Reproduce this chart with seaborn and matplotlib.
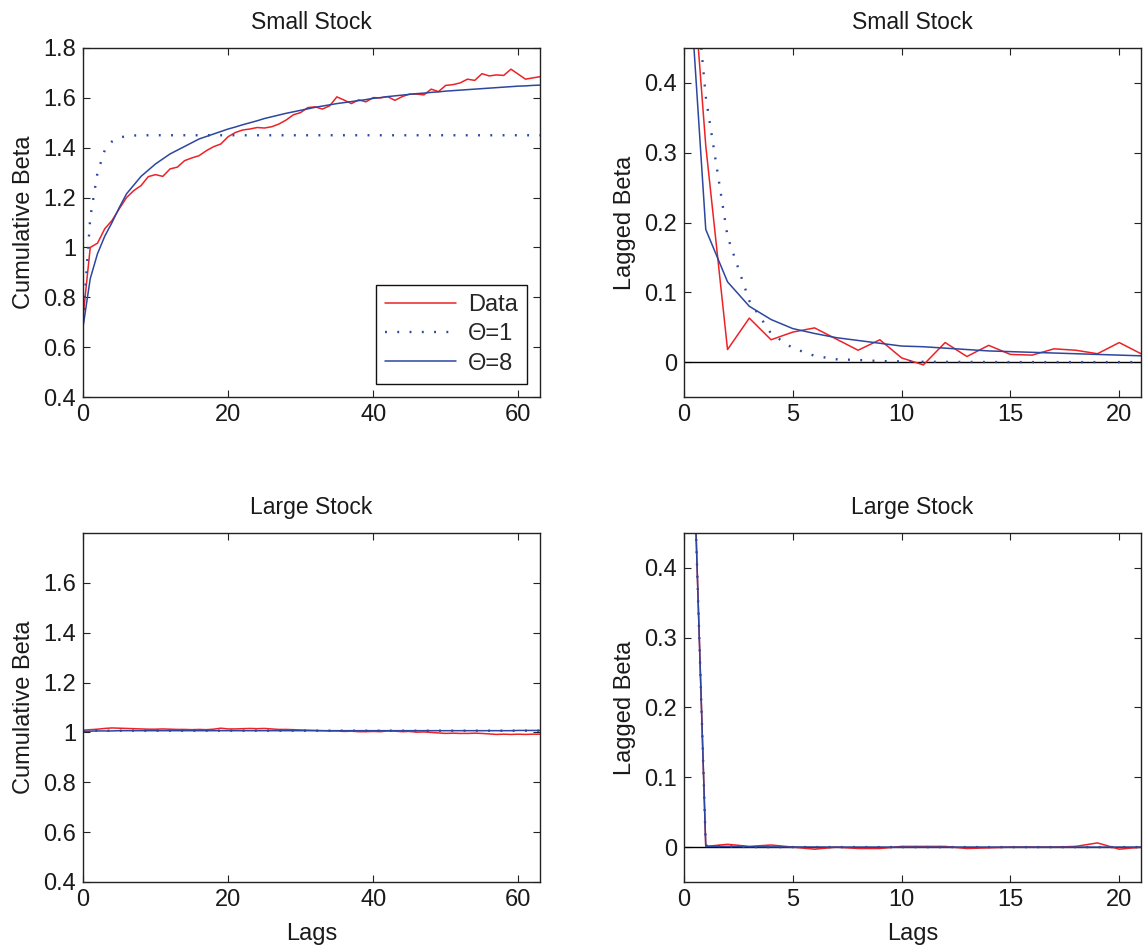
import matplotlib
matplotlib.use("Agg")
import matplotlib.pyplot as plt
from matplotlib.ticker import FuncFormatter
import seaborn as sns
import pandas as pd

# ---- lags ----
lags_cum = list(range(64))
lags_lag = list(range(22))

# ---- Small stock: cumulative beta ----
small_cum_data = [
    0.720, 1.000, 1.017, 1.075, 1.108, 1.155, 1.200, 1.228, 1.248, 1.284,
    1.292, 1.285, 1.315, 1.322, 1.348, 1.359, 1.368, 1.388, 1.404, 1.415,
    1.444, 1.461, 1.471, 1.475, 1.481, 1.479, 1.484, 1.495, 1.511, 1.532,
    1.541, 1.561, 1.564, 1.555, 1.568, 1.604, 1.591, 1.577, 1.592, 1.584,
    1.601, 1.600, 1.605, 1.590, 1.605, 1.615, 1.615, 1.612, 1.635, 1.625,
    1.650, 1.653, 1.660, 1.675, 1.670, 1.697, 1.688, 1.692, 1.690, 1.715,
    1.695, 1.675, 1.680, 1.685,
]
small_cum_theta1 = [
    0.700, 1.120, 1.300, 1.390, 1.425, 1.440, 1.447, 1.449, 1.450, 1.450,
    1.450, 1.450, 1.450, 1.450, 1.450, 1.450, 1.450, 1.450, 1.450, 1.450,
    1.450, 1.450, 1.450, 1.450, 1.450, 1.450, 1.450, 1.450, 1.450, 1.450,
    1.450, 1.450, 1.450, 1.450, 1.450, 1.450, 1.450, 1.450, 1.450, 1.450,
    1.450, 1.450, 1.450, 1.450, 1.450, 1.450, 1.450, 1.450, 1.450, 1.450,
    1.450, 1.450, 1.450, 1.450, 1.450, 1.450, 1.450, 1.450, 1.450, 1.450,
    1.450, 1.450, 1.450, 1.450,
]
small_cum_theta8 = [
    0.680, 0.875, 0.975, 1.045, 1.100, 1.160, 1.215, 1.250, 1.285, 1.310,
    1.335, 1.355, 1.375, 1.390, 1.405, 1.420, 1.435, 1.445, 1.455, 1.465,
    1.475, 1.483, 1.492, 1.500, 1.508, 1.517, 1.524, 1.531, 1.538, 1.544,
    1.550, 1.556, 1.562, 1.567, 1.572, 1.577, 1.581, 1.585, 1.589, 1.593,
    1.598, 1.601, 1.605, 1.608, 1.611, 1.614, 1.617, 1.619, 1.622, 1.624,
    1.627, 1.629, 1.631, 1.633, 1.635, 1.637, 1.639, 1.641, 1.643, 1.645,
    1.647, 1.648, 1.650, 1.651,
]

# ---- Small stock: lagged beta ----
small_lag_data = [
    0.720, 0.310, 0.018, 0.063, 0.032, 0.043, 0.049, 0.033, 0.017, 0.032,
    0.006, -0.004, 0.028, 0.008, 0.024, 0.011, 0.010, 0.019, 0.017, 0.012,
    0.028, 0.012,
]
small_lag_theta1 = [
    0.720, 0.380, 0.180, 0.088, 0.041, 0.020, 0.009, 0.004, 0.003, 0.0015,
    0.001, 0.0005, 0.0003, 0.0002, 0.0001, 0.0, 0.0, 0.0, 0.0, 0.0,
    0.0, 0.0,
]
small_lag_theta8 = [
    0.670, 0.190, 0.115, 0.080, 0.061, 0.048, 0.041, 0.035, 0.031, 0.027,
    0.023, 0.022, 0.020, 0.018, 0.016, 0.015, 0.014, 0.013, 0.012, 0.011,
    0.010, 0.009,
]

# ---- Large stock: cumulative beta ----
large_cum_data = [
    1.009, 1.011, 1.013, 1.016, 1.018, 1.017, 1.016, 1.015, 1.014, 1.013,
    1.013, 1.014, 1.013, 1.012, 1.012, 1.011, 1.012, 1.011, 1.013, 1.017,
    1.014, 1.014, 1.015, 1.016, 1.015, 1.016, 1.014, 1.012, 1.012, 1.011,
    1.010, 1.009, 1.008, 1.007, 1.006, 1.006, 1.004, 1.005, 1.003, 1.003,
    1.004, 1.003, 1.006, 1.005, 1.003, 1.004, 1.001, 1.002, 1.000, 0.998,
    0.996, 0.997, 0.996, 0.996, 0.997, 0.996, 0.994, 0.992, 0.993, 0.992,
    0.993, 0.992, 0.993, 0.993,
]
large_cum_theta1 = [
    1.004, 1.006, 1.007, 1.007, 1.007, 1.007, 1.007, 1.007, 1.007, 1.007,
    1.007, 1.007, 1.007, 1.007, 1.007, 1.007, 1.007, 1.007, 1.007, 1.007,
    1.007, 1.007, 1.007, 1.007, 1.007, 1.007, 1.007, 1.007, 1.007, 1.007,
    1.007, 1.007, 1.007, 1.007, 1.007, 1.007, 1.007, 1.007, 1.007, 1.007,
    1.007, 1.007, 1.007, 1.007, 1.007, 1.007, 1.007, 1.007, 1.007, 1.007,
    1.007, 1.007, 1.007, 1.007, 1.007, 1.007, 1.007, 1.007, 1.007, 1.007,
    1.007, 1.007, 1.007, 1.007,
]
large_cum_theta8 = [
    1.004, 1.005, 1.006, 1.006, 1.006, 1.007, 1.007, 1.007, 1.007, 1.007,
    1.007, 1.007, 1.007, 1.007, 1.007, 1.007, 1.007, 1.007, 1.007, 1.007,
    1.007, 1.007, 1.007, 1.007, 1.007, 1.007, 1.007, 1.007, 1.007, 1.007,
    1.007, 1.007, 1.007, 1.007, 1.007, 1.007, 1.007, 1.007, 1.007, 1.007,
    1.007, 1.007, 1.007, 1.007, 1.007, 1.007, 1.007, 1.007, 1.007, 1.007,
    1.007, 1.007, 1.007, 1.007, 1.007, 1.007, 1.007, 1.007, 1.007, 1.007,
    1.008, 1.008, 1.008, 1.008,
]

# ---- Large stock: lagged beta ----
large_lag_data = [
    1.009, 0.001, 0.004, 0.001, 0.003, 0.000, -0.003, 0.000, -0.002, -0.002,
    0.001, 0.001, 0.001, -0.002, -0.001, 0.000, 0.000, 0.000, 0.001, 0.006,
    -0.003, 0.000,
]
large_lag_theta1 = [
    1.004, 0.002, 0.001, 0.0, 0.0, 0.0, 0.0, 0.0, 0.0, 0.0,
    0.0, 0.0, 0.0, 0.0, 0.0, 0.0, 0.0, 0.0, 0.0, 0.0,
    0.0, 0.0,
]
large_lag_theta8 = [
    1.004, 0.001, 0.001, 0.0005, 0.0003, 0.0002, 0.0001, 0.0, 0.0, 0.0,
    0.0, 0.0, 0.0, 0.0, 0.0, 0.0, 0.0, 0.0, 0.0, 0.0,
    0.0, 0.0,
]

panel_titles = ["Small Stock", "Small Stock", "Large Stock", "Large Stock"]
series_labels = ["Data", "\u0398=1", "\u0398=8"]

RED = "#ec2227"
BLUE = "#2d469f"
DOT = (0, (0.8, 4.4))
FS = 17

sns.set_theme(style="white")
plt.rcParams["font.family"] = ["Liberation Sans", "DejaVu Sans"]
plt.rcParams["axes.linewidth"] = 1.0

W, H = 1143, 949
fig = plt.figure(figsize=(W / 100, H / 100), dpi=100)
fig.patch.set_facecolor("white")


def box(l, t, r, b):
    return [l / W, 1 - b / H, (r - l) / W, (b - t) / H]


ax_tl = fig.add_axes(box(83, 48, 540, 397))
ax_tr = fig.add_axes(box(684, 48, 1141, 397))
ax_bl = fig.add_axes(box(83, 533, 540, 882))
ax_br = fig.add_axes(box(684, 533, 1141, 882))


def draw(ax, lags, data, th1, th8, with_labels=False):
    df = pd.DataFrame({"lag": lags, "data": data, "t1": th1, "t8": th8})
    sns.lineplot(data=df, x="lag", y="data", ax=ax, color=RED, lw=1.1,
                 label=series_labels[0] if with_labels else None)
    sns.lineplot(data=df, x="lag", y="t1", ax=ax, color=BLUE, lw=1.7,
                 label=series_labels[1] if with_labels else None)
    ax.lines[-1].set_linestyle(DOT)
    sns.lineplot(data=df, x="lag", y="t8", ax=ax, color=BLUE, lw=1.1,
                 label=series_labels[2] if with_labels else None)


draw(ax_tl, lags_cum, small_cum_data, small_cum_theta1, small_cum_theta8, True)
draw(ax_tr, lags_lag, small_lag_data, small_lag_theta1, small_lag_theta8)
draw(ax_bl, lags_cum, large_cum_data, large_cum_theta1, large_cum_theta8)
draw(ax_br, lags_lag, large_lag_data, large_lag_theta1, large_lag_theta8)

for ax in (ax_tr, ax_br):
    ax.axhline(0, color="black", lw=1.0, zorder=1)

fmt = FuncFormatter(lambda v, p: "%g" % round(v, 6))

for ax, title in zip((ax_tl, ax_tr, ax_bl, ax_br), panel_titles):
    ax.set_title(title, fontsize=FS - 0.5, pad=14, color="#1a1a1a")
    ax.set_facecolor("white")
    for s in ax.spines.values():
        s.set_visible(True)
        s.set_color("#222222")
        s.set_linewidth(1.0)
    ax.tick_params(direction="in", length=5, width=0.8, top=True, right=True,
                   bottom=True, left=True, labelsize=FS, colors="#222222",
                   labelcolor="#1a1a1a", pad=5)
    ax.xaxis.set_major_formatter(fmt)
    ax.yaxis.set_major_formatter(fmt)
    ax.set_xlabel("")
    ax.set_ylabel("")

for ax in (ax_tl, ax_bl):
    ax.set_xlim(0, 63)
    ax.set_xticks([0, 20, 40, 60])
    ax.set_ylim(0.4, 1.8)
ax_tl.set_yticks([0.4, 0.6, 0.8, 1.0, 1.2, 1.4, 1.6, 1.8])
ax_bl.set_yticks([0.4, 0.6, 0.8, 1.0, 1.2, 1.4, 1.6])

for ax in (ax_tr, ax_br):
    ax.set_xlim(0, 21)
    ax.set_xticks([0, 5, 10, 15, 20])
    ax.set_ylim(-0.05, 0.45)
    ax.set_yticks([0, 0.1, 0.2, 0.3, 0.4])

ax_tl.set_ylabel("Cumulative Beta", fontsize=FS, color="#1a1a1a", labelpad=6)
ax_bl.set_ylabel("Cumulative Beta", fontsize=FS, color="#1a1a1a", labelpad=6)
ax_tr.set_ylabel("Lagged Beta", fontsize=FS, color="#1a1a1a", labelpad=6)
ax_br.set_ylabel("Lagged Beta", fontsize=FS, color="#1a1a1a", labelpad=6)
ax_bl.set_xlabel("Lags", fontsize=FS, color="#1a1a1a", labelpad=9)
ax_br.set_xlabel("Lags", fontsize=FS, color="#1a1a1a", labelpad=9)

leg = ax_tl.legend(loc="lower right", fontsize=FS, frameon=True, fancybox=False,
                   handlelength=3.0, labelspacing=0.3, borderpad=0.4,
                   handletextpad=0.5, borderaxespad=0.55)
leg.get_frame().set_edgecolor("#111111")
leg.get_frame().set_linewidth(1.0)
leg.get_frame().set_alpha(1.0)
for ax in (ax_tr, ax_bl, ax_br):
    lg = ax.get_legend()
    if lg is not None:
        lg.remove()

fig.savefig("out.png", dpi=100, facecolor="white")
